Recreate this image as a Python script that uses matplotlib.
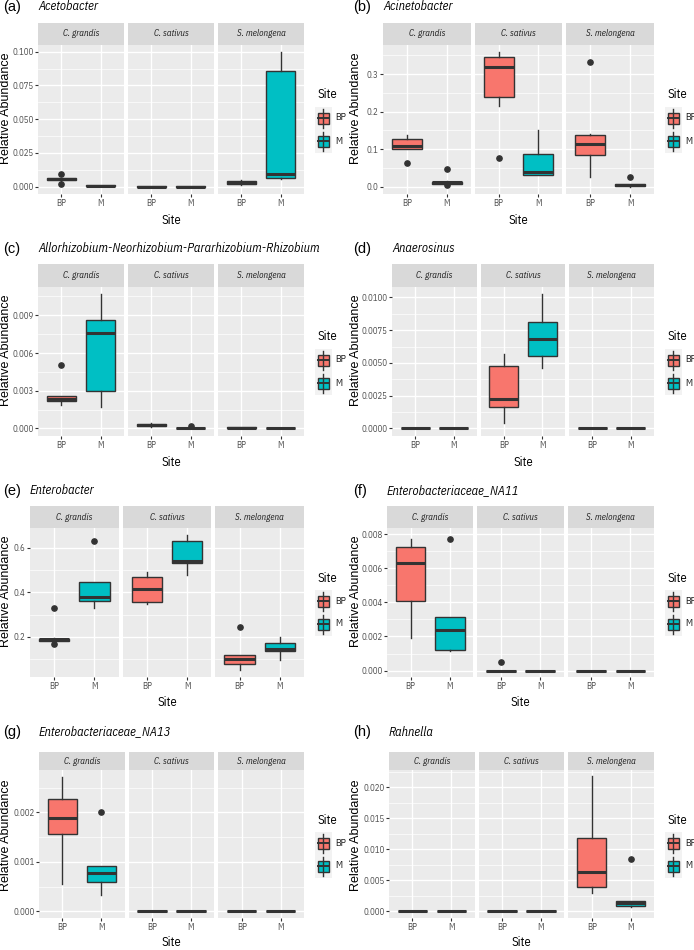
#
# Boxplots of relative abundance per genus, faceted by host plant
#
import matplotlib
matplotlib.use("Agg")
import matplotlib.pyplot as plt
from matplotlib.patches import Rectangle

plt.rcParams["font.family"] = ["IBM Plex Sans Condensed", "Liberation Sans", "DejaVu Sans"]

# facet order and sites
hosts = ["C. grandis", "C. sativus", "S. melongena"]
sites = ["BP", "M"]
site_colors = ["#F8766D", "#00BFC4"]

# box stats per panel: (whislo, q1, med, q3, whishi, fliers)
# order: C. grandis BP, M, C. sativus BP, M, S. melongena BP, M
acetobacter = [
    (0.0045, 0.0048, 0.0056, 0.0062, 0.0065, [0.0095, 0.0018]),
    (0.0003, 0.0004, 0.0007, 0.0010, 0.0012, []),
    (0.0, 0.0, 0.0001, 0.0002, 0.0002, []),
    (0.0, 0.0, 0.0001, 0.0002, 0.0002, []),
    (0.0016, 0.0020, 0.0030, 0.0045, 0.0050, []),
    (0.0060, 0.0062, 0.0091, 0.0857, 0.1000, []),
]
acinetobacter = [
    (0.100, 0.101, 0.108, 0.126, 0.138, [0.0625]),
    (0.007, 0.008, 0.011, 0.013, 0.014, [0.047, 0.003]),
    (0.214, 0.239, 0.320, 0.346, 0.358, [0.077]),
    (0.032, 0.032, 0.038, 0.0875, 0.152, []),
    (0.025, 0.085, 0.114, 0.1375, 0.140, [0.333]),
    (0.000, 0.001, 0.003, 0.006, 0.007, [0.025]),
]
allorhizobium = [
    (0.0019, 0.00217, 0.00238, 0.00257, 0.0026, [0.00508]),
    (0.00172, 0.0030, 0.0076, 0.00866, 0.01072, []),
    (0.00015, 0.0002, 0.0003, 0.00035, 0.0004, []),
    (0.0, 0.0, 0.00001, 0.00005, 0.00006, [0.00018]),
    (0.0, 0.00003, 0.00005, 0.0001, 0.00012, []),
    (0.0, 0.0, 0.0, 0.00002, 0.00002, []),
]
anaerosinus = [
    (0.0, 0.0, 0.0, 0.0, 0.0, []),
    (0.0, 0.0, 0.0, 0.0, 0.0, []),
    (0.00038, 0.00163, 0.00221, 0.00478, 0.00572, []),
    (0.00458, 0.00552, 0.00682, 0.00814, 0.0103, []),
    (0.0, 0.0, 0.0, 0.0, 0.0, []),
    (0.0, 0.0, 0.0, 0.0, 0.0, []),
]
enterobacter = [
    (0.180, 0.181, 0.188, 0.192, 0.193, [0.331, 0.167]),
    (0.331, 0.363, 0.378, 0.449, 0.449, [0.633]),
    (0.348, 0.355, 0.414, 0.469, 0.491, []),
    (0.479, 0.532, 0.542, 0.630, 0.657, []),
    (0.049, 0.079, 0.102, 0.117, 0.117, [0.242]),
    (0.094, 0.137, 0.147, 0.173, 0.200, []),
]
enterobacteriaceae_na11 = [
    (0.00192, 0.0041, 0.00629, 0.00727, 0.00773, []),
    (0.00115, 0.00119, 0.00237, 0.00317, 0.00317, [0.00775]),
    (0.0, 0.0, 0.0, 0.0, 0.0, [0.00048]),
    (0.0, 0.0, 0.0, 0.0, 0.0, []),
    (0.0, 0.0, 0.0, 0.0, 0.0, []),
    (0.0, 0.0, 0.0, 0.0, 0.0, []),
]
enterobacteriaceae_na13 = [
    (0.00056, 0.00157, 0.00188, 0.00228, 0.00271, []),
    (0.00034, 0.00059, 0.00077, 0.00091, 0.00091, [0.0020]),
    (0.0, 0.0, 0.0, 0.0, 0.0, []),
    (0.0, 0.0, 0.0, 0.0, 0.0, []),
    (0.0, 0.0, 0.0, 0.0, 0.0, []),
    (0.0, 0.0, 0.0, 0.0, 0.0, []),
]
rahnella = [
    (0.0, 0.0, 0.0, 0.0, 0.0, []),
    (0.0, 0.0, 0.0, 0.0, 0.0, []),
    (0.0, 0.0, 0.0, 0.0, 0.0, []),
    (0.0, 0.0, 0.0, 0.0, 0.0, []),
    (0.0030, 0.0039, 0.0064, 0.01185, 0.0219, []),
    (0.0007, 0.0008, 0.00136, 0.0016, 0.0017, [0.0084]),
]

# y ticks and labels per panel
ticks_a = [0.0, 0.025, 0.05, 0.075, 0.1]
labels_a = ["0.000", "0.025", "0.050", "0.075", "0.100"]
ticks_b = [0.0, 0.1, 0.2, 0.3]
labels_b = ["0.0", "0.1", "0.2", "0.3"]
ticks_c = [0.0, 0.003, 0.006, 0.009]
labels_c = ["0.000", "0.003", "0.006", "0.009"]
ticks_d = [0.0, 0.0025, 0.005, 0.0075, 0.01]
labels_d = ["0.0000", "0.0025", "0.0050", "0.0075", "0.0100"]
ticks_e = [0.2, 0.4, 0.6]
labels_e = ["0.2", "0.4", "0.6"]
ticks_f = [0.0, 0.002, 0.004, 0.006, 0.008]
labels_f = ["0.000", "0.002", "0.004", "0.006", "0.008"]
ticks_g = [0.0, 0.001, 0.002]
labels_g = ["0.000", "0.001", "0.002"]
ticks_h = [0.0, 0.005, 0.01, 0.015, 0.02]
labels_h = ["0.000", "0.005", "0.010", "0.015", "0.020"]

W, H = 694, 950
PANEL_BG = "#EBEBEB"
STRIP_BG = "#D9D9D9"
EDGE = "#333333"

# row layout in pixels: strip top, strip bottom, plot bottom, title y, xlabel y, legend title y
rows = [
    (23, 45, 194, 7, 221, 95),
    (264, 287, 436, 249, 462, 337),
    (506, 528, 677, 491, 703, 578),
    (752, 770, 918, 732, 943, 820),
]

panels = [
    ("(a)", "Acetobacter", acetobacter, ticks_a, labels_a, (-0.0054, 0.105), 0, 0, 38),
    ("(b)", "Acinetobacter", acinetobacter, ticks_b, labels_b, (-0.02, 0.378), 0, 1, 383),
    ("(c)", "Allorhizobium-Neorhizobium-Pararhizobium-Rhizobium", allorhizobium,
     ticks_c, labels_c, (-0.0006, 0.01125), 1, 0, 38),
    ("(d)", "Anaerosinus", anaerosinus, ticks_d, labels_d, (-0.00058, 0.0108), 1, 1, 392),
    ("(e)", "Enterobacter", enterobacter, ticks_e, labels_e, (0.019, 0.69), 2, 0, 30),
    ("(f)", "Enterobacteriaceae_NA11", enterobacteriaceae_na11, ticks_f, labels_f,
     (-0.00038, 0.00837), 2, 1, 387),
    ("(g)", "Enterobacteriaceae_NA13", enterobacteriaceae_na13, ticks_g, labels_g,
     (-0.000135, 0.00286), 3, 0, 39),
    ("(h)", "Rahnella", rahnella, ticks_h, labels_h, (-0.0011, 0.0228), 3, 1, 389),
]


def px_axes(fig, left, top, right, bottom, **kw):
    return fig.add_axes(
        [left / W, 1 - bottom / H, (right - left) / W, (bottom - top) / H], **kw
    )


def minor_positions(ticks, ylim):
    step = ticks[1] - ticks[0]
    out = []
    t = ticks[0] - step / 2
    while t > ylim[0]:
        out.append(t)
        t -= step
    t = ticks[0] + step / 2
    while t < ylim[1]:
        out.append(t)
        t += step
    return out


def draw_panel(fig, over, label, name, stats, ticks, tlabels, ylim, r, c, left):
    strip_top, strip_bot, plot_bot, title_y, xlab_y, leg_y = rows[r]
    right = 304 if c == 0 else 654
    gap = 4
    fw = (right - left - 2 * gap) / 3
    minors = minor_positions(ticks, ylim)
    for i, host in enumerate(hosts):
        x0 = left + i * (fw + gap)
        ax = px_axes(fig, x0, strip_bot, x0 + fw, plot_bot)
        ax.set_facecolor(PANEL_BG)
        for s in ax.spines.values():
            s.set_visible(False)
        ax.set_axisbelow(True)
        for m in minors:
            ax.axhline(m, color="white", lw=0.5, zorder=0)
        for t in ticks:
            ax.axhline(t, color="white", lw=1.0, zorder=0)
        for xx in (1, 2):
            ax.axvline(xx, color="white", lw=1.0, zorder=0)
        bx = []
        for j in range(2):
            lo, q1, med, q3, hi, fl = stats[2 * i + j]
            bx.append(dict(whislo=lo, q1=q1, med=med, q3=q3, whishi=hi, fliers=fl))
        res = ax.bxp(
            bx, positions=[1, 2], widths=0.75, patch_artist=True, showcaps=False,
            boxprops=dict(edgecolor=EDGE, linewidth=1.0),
            whiskerprops=dict(color=EDGE, linewidth=1.0),
            medianprops=dict(color=EDGE, linewidth=2.2),
            flierprops=dict(marker="o", markerfacecolor=EDGE, markeredgecolor=EDGE,
                            markersize=3.8),
        )
        for patch, col in zip(res["boxes"], site_colors):
            patch.set_facecolor(col)
        ax.set_xlim(0.4, 2.6)
        ax.set_ylim(*ylim)
        ax.set_xticks([1, 2])
        ax.set_xticklabels(sites)
        ax.set_yticks(ticks)
        ax.set_yticklabels(tlabels)
        ax.tick_params(length=2.2, width=0.8, color=EDGE, labelcolor="#4D4D4D",
                       labelsize=6.3, pad=1.2)
        if i > 0:
            ax.tick_params(axis="y", left=False, labelleft=False)
        sa = px_axes(fig, x0, strip_top, x0 + fw, strip_bot)
        sa.set_facecolor(STRIP_BG)
        sa.set_xticks([])
        sa.set_yticks([])
        for s in sa.spines.values():
            s.set_visible(False)
        sa.text(0.5, 0.5, host, ha="center", va="center", style="italic",
                fontsize=6.5, color="#1A1A1A", transform=sa.transAxes)

    # panel title
    lab_x = 3 if c == 0 else 353
    over.text(lab_x, title_y, label, ha="left", va="center", fontsize=10.5,
              family=["Liberation Sans", "DejaVu Sans"])
    over.text(left, title_y, name, ha="left", va="center", fontsize=9, style="italic")
    # axis titles
    over.text((left + right) / 2, xlab_y, "Site", ha="center", va="center", fontsize=9)
    over.text(6.5 if c == 0 else 356, (strip_top + plot_bot) / 2, "Relative Abundance",
              ha="center", va="center", rotation=90, fontsize=9,
              family=["Liberation Sans", "DejaVu Sans"])
    # legend
    lx = 315 if c == 0 else 665
    over.text(lx + 2, leg_y, "Site", ha="left", va="center", fontsize=9)
    for k, (site, col) in enumerate(zip(sites, site_colors)):
        cy = leg_y + 23 + 23 * k
        over.add_patch(Rectangle((lx, cy - 11.5), 17, 23, facecolor="#F2F2F2",
                                 edgecolor="none"))
        over.plot([lx + 8.5, lx + 8.5], [cy - 9.5, cy + 9.5], color=EDGE, lw=1.0)
        over.add_patch(Rectangle((lx + 3, cy - 5.5), 11, 11, facecolor=col,
                                 edgecolor=EDGE, lw=1.0))
        over.plot([lx + 3, lx + 14], [cy, cy], color=EDGE, lw=1.4)
        over.text(lx + 20, cy, site, ha="left", va="center", fontsize=7,
                  color="#1A1A1A")


fig = plt.figure(figsize=(W / 100, H / 100), dpi=100)
over = fig.add_axes([0, 0, 1, 1], facecolor="none")
over.set_xlim(0, W)
over.set_ylim(H, 0)
over.axis("off")
over.set_zorder(5)

for p in panels:
    draw_panel(fig, over, *p)

fig.savefig("out.png", dpi=100)
